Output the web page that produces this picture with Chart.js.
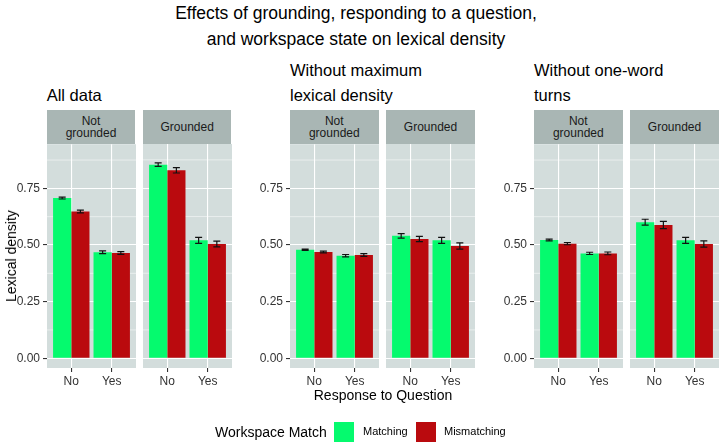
<!DOCTYPE html>
<html>
<head>
<meta charset="utf-8">
<script src="https://cdn.jsdelivr.net/npm/chart.js@4.4.0/dist/chart.umd.min.js"></script>
<style>
  body { margin: 0; background: #fff; font-family: "Liberation Sans", Arial, sans-serif; }
  #wrap { position: relative; width: 721px; height: 444px; overflow: hidden; }
  #wrap div, #wrap canvas { position: absolute; }
  .strip { background: #A9B6B4; color: #1a1a1a; font-size: 12px; line-height: 12.5px;
           display: flex; align-items: center; justify-content: center; text-align: center; }
  .ptitle { font-size: 16.5px; line-height: 25px; color: #000; white-space: nowrap; }
</style>
</head>
<body>
<div id="wrap"></div>
<script>
// categories
const responseLabels = ['No', 'Yes'];
const groundingLabels = ['Not\ngrounded', 'Grounded'];
const panelTitles = ['All data', 'Without maximum\nlexical density', 'Without one-word\nturns'];
const seriesNames = ['Matching', 'Mismatching'];
const yTickValues = [0, 0.25, 0.5, 0.75];
const yMinorValues = [0.125, 0.375, 0.625, 0.875];

// values: [notGrounded No, notGrounded Yes, grounded No, grounded Yes]
const allMatching = [0.707, 0.468, 0.854, 0.520];
const allMismatching = [0.648, 0.465, 0.829, 0.504];
const allMatchingErr = [0.004, 0.006, 0.008, 0.013];
const allMismatchingErr = [0.006, 0.006, 0.012, 0.013];

const noMaxMatching = [0.479, 0.453, 0.540, 0.520];
const noMaxMismatching = [0.469, 0.456, 0.526, 0.495];
const noMaxMatchingErr = [0.003, 0.005, 0.010, 0.013];
const noMaxMismatchingErr = [0.004, 0.006, 0.012, 0.014];

const noOneWordMatching = [0.522, 0.463, 0.600, 0.520];
const noOneWordMismatching = [0.506, 0.463, 0.588, 0.504];
const noOneWordMatchingErr = [0.004, 0.005, 0.013, 0.013];
const noOneWordMismatchingErr = [0.005, 0.006, 0.016, 0.014];

const panels = [
  [allMatching, allMismatching, allMatchingErr, allMismatchingErr],
  [noMaxMatching, noMaxMismatching, noMaxMatchingErr, noMaxMismatchingErr],
  [noOneWordMatching, noOneWordMismatching, noOneWordMatchingErr, noOneWordMismatchingErr]
];

const colors = ['#05FA6E', '#BA0A0E'];
const panelBg = '#D3DDDC';

// layout
const panelLefts = [46.7, 290, 534];
const facetW = 88.6;
const facetGap = 7.6;
const plotTop = 144;
const plotBottom = 368;
const padTop = 10;
const xAxisH = 24;
const yAxisW = 47;

Chart.defaults.font.family = '"Liberation Sans", Arial, sans-serif';

const wrap = document.getElementById('wrap');

function addDiv(cls, text, css) {
  const d = document.createElement('div');
  if (cls) d.className = cls;
  d.innerHTML = text.replace(/\n/g, '<br>');
  Object.assign(d.style, css);
  wrap.appendChild(d);
  return d;
}

const bgPlugin = {
  id: 'bgPlugin',
  beforeDraw(chart) {
    const { ctx, chartArea: a, scales } = chart;
    ctx.save();
    ctx.fillStyle = panelBg;
    ctx.fillRect(a.left, a.top, a.right - a.left, a.bottom - a.top);
    ctx.strokeStyle = '#fff';
    ctx.lineWidth = 0.5;
    yMinorValues.forEach(v => {
      const y = scales.y.getPixelForValue(v);
      ctx.beginPath();
      ctx.moveTo(a.left, y);
      ctx.lineTo(a.right, y);
      ctx.stroke();
    });
    ctx.restore();
  }
};

const errorBarPlugin = {
  id: 'errorBarPlugin',
  afterDatasetsDraw(chart) {
    const { ctx, scales } = chart;
    ctx.save();
    ctx.strokeStyle = '#111';
    ctx.lineWidth = 1.2;
    chart.data.datasets.forEach((ds, i) => {
      const meta = chart.getDatasetMeta(i);
      meta.data.forEach((bar, j) => {
        const v = ds.data[j].y;
        const e = ds.errors[j];
        const top = scales.y.getPixelForValue(v + e);
        const bot = scales.y.getPixelForValue(v - e);
        const x = bar.x;
        ctx.beginPath();
        ctx.moveTo(x, top); ctx.lineTo(x, bot);
        ctx.moveTo(x - 3.5, top); ctx.lineTo(x + 3.5, top);
        ctx.moveTo(x - 3.5, bot); ctx.lineTo(x + 3.5, bot);
        ctx.stroke();
      });
    });
    ctx.restore();
  }
};

function makeFacet(panelIdx, facetIdx) {
  const [m, mm, me, mme] = panels[panelIdx];
  const first = facetIdx === 0;
  const facetLeft = panelLefts[panelIdx] + facetIdx * (facetW + facetGap);
  const w = first ? yAxisW : 0;
  const canvas = document.createElement('canvas');
  canvas.width = Math.round(facetW + w);
  canvas.height = padTop + (plotBottom - plotTop) + xAxisH;
  canvas.style.left = (facetLeft - w) + 'px';
  canvas.style.top = (plotTop - padTop) + 'px';
  wrap.appendChild(canvas);

  const off = facetIdx * 2;
  const datasets = [[m, me], [mm, mme]].map(([vals, errs], s) => ({
    label: seriesNames[s],
    data: responseLabels.map((r, k) => ({ x: k + 1, y: vals[off + k] })),
    errors: responseLabels.map((r, k) => errs[off + k]),
    backgroundColor: colors[s],
    borderWidth: 0,
    categoryPercentage: 0.9,
    barPercentage: 1
  }));

  new Chart(canvas.getContext('2d'), {
    type: 'bar',
    data: { datasets: datasets },
    options: {
      responsive: false,
      animation: false,
      devicePixelRatio: 1,
      layout: { padding: { top: padTop, left: 0, right: 0, bottom: 0 } },
      plugins: { legend: { display: false }, tooltip: { enabled: false } },
      scales: {
        x: {
          type: 'linear',
          min: 0.4,
          max: 2.6,
          offset: false,
          afterBuildTicks: s => { s.ticks = [{ value: 1 }, { value: 2 }]; },
          afterFit: s => { s.height = xAxisH; },
          grid: { offset: false, color: '#fff', lineWidth: 1.1, tickColor: '#333', tickLength: 4 },
          border: { display: false },
          ticks: {
            autoSkip: false, maxRotation: 0, padding: 2,
            color: '#333', font: { size: 12 },
            callback: v => responseLabels[v - 1]
          }
        },
        y: {
          min: -0.043,
          max: 0.945,
          afterBuildTicks: s => { s.ticks = yTickValues.map(v => ({ value: v })); },
          afterFit: s => { s.width = w; },
          grid: { color: '#fff', lineWidth: 1.1, tickColor: '#333', tickLength: 4, drawTicks: first },
          border: { display: false },
          ticks: {
            display: first, padding: 3,
            color: '#333', font: { size: 12 },
            callback: v => v.toFixed(2)
          }
        }
      }
    },
    plugins: [bgPlugin, errorBarPlugin]
  });

  addDiv('strip', groundingLabels[facetIdx], {
    left: facetLeft + 'px', top: '110px', width: facetW + 'px', height: (plotTop - 110) + 'px'
  });
}

// main title
addDiv('', 'Effects of grounding, responding to a question,\nand workspace state on lexical density', {
  left: '0px', top: '0px', width: '712px', textAlign: 'center',
  fontSize: '17.5px', lineHeight: '26px', color: '#000'
});

panelTitles.forEach((t, p) => {
  const lines = t.split('\n').length;
  addDiv('ptitle', t, { left: panelLefts[p] + 'px', top: (107.5 - lines * 25) + 'px' });
  makeFacet(p, 0);
  makeFacet(p, 1);
});

// axis titles
addDiv('', 'Lexical density', {
  left: '11px', top: ((plotTop + plotBottom) / 2) + 'px', fontSize: '14px', color: '#000',
  whiteSpace: 'nowrap', transform: 'translate(-50%, -50%) rotate(-90deg)'
});
addDiv('', 'Response to Question', {
  left: '383px', top: '395px', fontSize: '14px', color: '#000',
  whiteSpace: 'nowrap', transform: 'translate(-50%, -50%)'
});

// legend
addDiv('', 'Workspace Match', { left: '215px', top: '424px', fontSize: '14px', color: '#000', whiteSpace: 'nowrap' });
const legendKeysX = [334, 416];
const legendTextX = [363, 444];
seriesNames.forEach((n, i) => {
  addDiv('', '', { left: legendKeysX[i] + 'px', top: '422px', width: '20px', height: '20px', background: colors[i] });
  addDiv('', n, { left: legendTextX[i] + 'px', top: '425px', fontSize: '11px', color: '#000', whiteSpace: 'nowrap' });
});
</script>
</body>
</html>
